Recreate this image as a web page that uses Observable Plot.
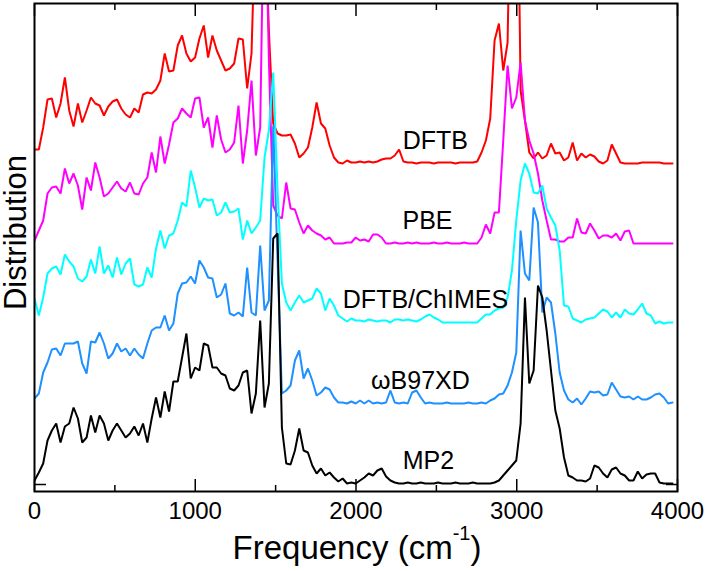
<!DOCTYPE html>
<html>
<head>
<meta charset="utf-8">
<script src="https://cdn.jsdelivr.net/npm/d3@7"></script>
<script src="https://cdn.jsdelivr.net/npm/@observablehq/plot@0.6"></script>
<style>
  body { margin: 0; background: #fff; }
  #chart svg { display: block; }
</style>
</head>
<body>
<div id="chart"></div>
<script>
// ---- data ----
const seriesNames = ["DFTB", "PBE", "DFTB/ChIMES", "ωB97XD", "MP2"];
const seriesColors = ["#ff0000", "#ff00ff", "#00ffff", "#1e90ff", "#000000"];
const seriesOffsets = [321, 241, 162, 81, 1];           // vertical stacking offsets (arb. units)
const frequency = d3.range(0, 148).map(i => i * 27);    // sampling grid, cm^-1

const dftb = [14,14,36,64,65,46,60,86,53,37,
  60,41,53,66,60,58,48,57,62,64,
  55,49,46,55,51,69,71,70,74,83,
  110,92,93,118,128,110,102,106,125,138,
  106,128,113,103,93,95,100,125,124,75,
  110,263,313,263,133,40,30,28,28,29,
  20,6,10,16,36,61,40,35,18,6,
  1,0,3,1,1,2,1,2,1,2,
  4,5,5,8,14,2,1,1,0,1,
  1,1,0,1,1,1,1,0,1,1,
  1,1,2,11,23,45,123,140,93,121,
  363,413,73,43,11,5,11,5,8,20,
  10,11,3,6,21,3,10,6,9,7,
  2,0,3,19,10,1,0,0,0,0,
  1,1,1,1,1,0,0,0];

const pbe = [3,13,23,50,56,57,50,75,60,70,
  58,34,66,53,81,66,47,50,56,62,
  55,52,61,50,49,60,66,91,71,107,
  80,99,121,125,135,130,126,145,146,116,
  126,96,128,104,91,94,101,138,80,113,
  163,88,116,393,183,38,28,25,61,35,
  34,21,10,18,13,10,8,4,6,0,
  0,0,1,1,6,3,4,2,9,9,
  6,0,0,1,0,0,1,0,1,0,
  0,0,1,0,0,1,0,0,0,1,
  0,0,0,6,19,10,31,31,103,178,
  135,146,181,123,103,90,70,43,23,4,
  4,2,2,6,6,25,11,10,20,13,
  5,8,8,6,10,3,12,13,0,0,
  0,0,0,0,0,0,0,0];

const chimes = [24,7,25,49,54,56,48,68,61,56,
  44,41,46,63,49,76,49,57,45,65,
  48,59,64,38,36,38,55,45,74,92,
  74,87,89,102,120,116,152,135,115,124,
  122,123,107,110,120,110,111,114,83,102,
  89,95,102,165,192,250,132,39,20,12,
  20,27,20,22,24,34,29,12,24,17,
  7,4,1,4,2,2,1,3,2,1,
  2,2,0,3,3,2,3,2,1,3,
  6,8,5,3,0,0,0,0,0,0,
  0,0,0,4,8,8,12,14,15,25,
  52,102,142,159,149,130,129,137,114,105,
  97,72,17,16,4,2,0,3,4,5,
  9,13,11,5,10,5,13,9,8,13,
  19,9,7,-1,1,-1,0,0];

const wb97xd = [5,10,31,41,54,55,48,60,60,60,
  62,40,30,62,61,71,60,45,50,60,
  52,55,48,55,49,45,60,73,76,76,
  88,73,80,110,120,121,127,120,143,136,
  126,125,106,109,120,90,88,91,87,136,
  91,88,158,93,103,278,143,10,13,18,
  43,53,25,35,23,8,11,16,14,6,
  1,1,0,2,0,3,0,3,0,1,
  0,1,13,1,0,1,0,11,13,6,
  0,1,0,0,0,1,0,0,0,0,
  1,0,0,1,0,3,5,9,10,18,
  31,51,173,130,123,196,181,91,106,101,
  70,31,13,4,1,5,-1,5,12,11,
  12,8,9,21,14,7,6,7,4,7,
  4,4,6,9,10,6,0,1];

const mp2 = [3,11,20,43,53,60,41,57,60,76,
  65,41,46,68,51,68,60,43,53,60,
  53,46,50,57,48,60,41,65,86,66,
  92,72,102,102,126,150,105,116,113,140,
  138,116,116,110,108,95,93,98,111,113,
  70,90,163,76,100,245,250,56,20,19,
  33,55,33,31,18,10,15,8,11,6,
  2,5,0,1,0,3,6,10,8,13,
  15,7,3,1,0,0,1,0,0,1,
  0,0,0,1,0,0,0,1,0,0,
  0,1,0,0,0,0,1,3,8,13,
  18,23,60,186,100,113,198,186,153,113,
  73,55,26,8,6,3,3,2,5,18,
  16,10,6,14,16,10,8,3,3,12,
  5,9,10,10,1,0,0,0];

const majorTicks = [0, 1000, 2000, 3000, 4000];
const minorTicks = [500, 1500, 2500, 3500];

// label placement (annotation anchors, in data units)
const labelFreq = [2494, 2445, 2432, 2401, 2451];
const labelLift = 23;

// ---- build table ----
const allSeries = [dftb, pbe, chimes, wb97xd, mp2];
const rows = [];
allSeries.forEach((vals, s) => {
  vals.forEach((v, i) => rows.push({series: seriesNames[s], f: frequency[i], y: v + seriesOffsets[s]}));
});
const labels = seriesNames.map((name, s) => ({name, f: labelFreq[s], y: seriesOffsets[s] + labelLift}));

const font = "'Liberation Sans', Arial, Helvetica, sans-serif";

const chart = Plot.plot({
  width: 706,
  height: 571,
  marginLeft: 34,
  marginRight: 29,
  marginTop: 3,
  marginBottom: 80,
  style: {fontFamily: font, background: "#fff", color: "#000"},
  x: {domain: [0, 4000]},
  y: {domain: [-7, 481]},
  color: {domain: seriesNames, range: seriesColors},
  marks: [
    Plot.lineY(rows, {x: "f", y: "y", z: "series", stroke: "series", strokeWidth: 2, clip: true, strokeLinejoin: "miter"}),
    Plot.text(labels, {x: "f", y: "y", text: "name", fontSize: 25, textAnchor: "middle", fill: "#000"}),
    Plot.axisX({anchor: "bottom", ticks: majorTicks, tickSize: -12, tickPadding: 22, fontSize: 24, tickFormat: d => String(d), label: null, strokeWidth: 1.5}),
    Plot.axisX({anchor: "bottom", ticks: minorTicks, tickSize: -6, tickFormat: () => "", label: null, strokeWidth: 1.5}),
    Plot.axisX({anchor: "top", ticks: majorTicks, tickSize: -12, tickFormat: () => "", label: null, strokeWidth: 1.5}),
    Plot.axisX({anchor: "top", ticks: minorTicks, tickSize: -6, tickFormat: () => "", label: null, strokeWidth: 1.5}),
    Plot.axisY({anchor: "left", ticks: [0], tickSize: -12, tickFormat: () => "", label: null, strokeWidth: 1.5}),
    Plot.axisY({anchor: "right", ticks: [0], tickSize: -12, tickFormat: () => "", label: null, strokeWidth: 1.5}),
    Plot.text(["Distribution"], {frameAnchor: "left", textAnchor: "middle", lineAnchor: "middle", rotate: -90, dx: -18, dy: -15, fontSize: 31, fill: "#000"}),
    Plot.frame({strokeWidth: 2})
  ]
});

// x-axis title with superscript
const svg = d3.select(chart);
const xt = svg.append("text")
  .attr("x", 357).attr("y", 559)
  .attr("text-anchor", "middle")
  .attr("font-family", font)
  .attr("font-size", 33)
  .attr("fill", "#000");
xt.append("tspan").text("Frequency (cm");
xt.append("tspan").attr("font-size", 20).attr("dy", -19).text("-1");
xt.append("tspan").attr("font-size", 33).attr("dy", 19).text(")");

document.getElementById("chart").appendChild(chart);
</script>
</body>
</html>
